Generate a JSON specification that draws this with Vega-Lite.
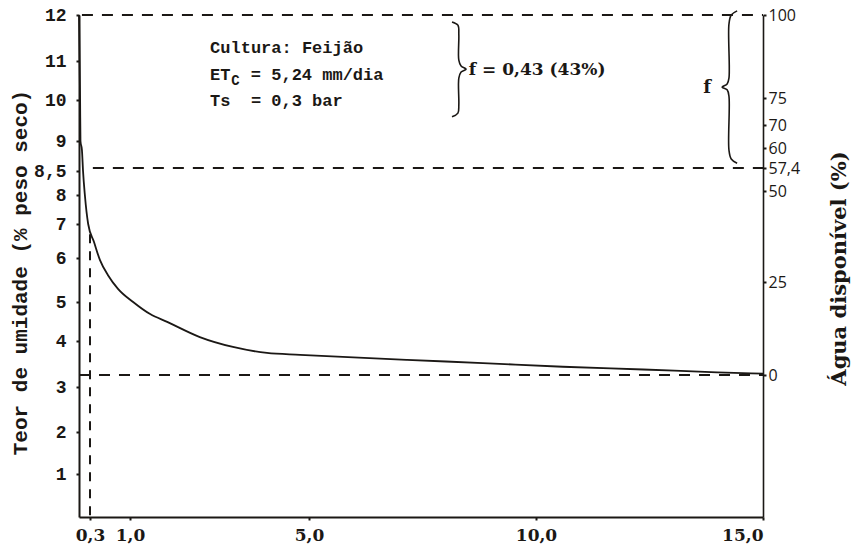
{
  "$schema": "https://vega.github.io/schema/vega-lite/v6.json",
  "width": 684,
  "height": 502,
  "autosize": {"type": "none"},
  "padding": {"left": 79, "top": 15, "right": 93, "bottom": 36},
  "background": "white",
  "config": {"view": {"stroke": null}, "axis": {"grid": false}},
  "datasets": {
    "curve": [
      {"x": 0, "y": 12}, {"x": 0.03, "y": 10}, {"x": 0.04, "y": 9}, {"x": 0.08, "y": 8.85},
      {"x": 0.11, "y": 8.5}, {"x": 0.16, "y": 8.0}, {"x": 0.25, "y": 7.0}, {"x": 0.37, "y": 6.47},
      {"x": 0.475, "y": 5.95}, {"x": 0.615, "y": 5.61}, {"x": 0.79, "y": 5.3}, {"x": 1.07, "y": 5.0},
      {"x": 1.45, "y": 4.69}, {"x": 1.83, "y": 4.49}, {"x": 2.56, "y": 4.1}, {"x": 3.3, "y": 3.87},
      {"x": 4.06, "y": 3.74}, {"x": 4.8, "y": 3.7}, {"x": 7.16, "y": 3.59}, {"x": 8.83, "y": 3.52},
      {"x": 10.59, "y": 3.44}, {"x": 12.36, "y": 3.38}, {"x": 13.99, "y": 3.32}, {"x": 15, "y": 3.29}
    ],
    "vline": [{"x": 0.3, "y": 6.7, "y2": 0}],
    "braces": [
      {"id": "f", "o": 1, "x": 14.43, "y": 12.09}, {"id": "f", "o": 2, "x": 14.3, "y": 12.0},
      {"id": "f", "o": 3, "x": 14.25, "y": 11.8}, {"id": "f", "o": 4, "x": 14.25, "y": 10.56},
      {"id": "f", "o": 5, "x": 14.21, "y": 10.41}, {"id": "f", "o": 6, "x": 14.1, "y": 10.33},
      {"id": "f", "o": 7, "x": 14.21, "y": 10.26}, {"id": "f", "o": 8, "x": 14.25, "y": 10.1},
      {"id": "f", "o": 9, "x": 14.25, "y": 8.85}, {"id": "f", "o": 10, "x": 14.3, "y": 8.7},
      {"id": "f", "o": 11, "x": 14.43, "y": 8.63},
      {"id": "m", "o": 1, "x": 8.15, "y": 11.85}, {"id": "m", "o": 2, "x": 8.28, "y": 11.78},
      {"id": "m", "o": 3, "x": 8.3, "y": 11.57}, {"id": "m", "o": 4, "x": 8.3, "y": 11.02},
      {"id": "m", "o": 5, "x": 8.35, "y": 10.87}, {"id": "m", "o": 6, "x": 8.46, "y": 10.79},
      {"id": "m", "o": 7, "x": 8.35, "y": 10.72}, {"id": "m", "o": 8, "x": 8.3, "y": 10.56},
      {"id": "m", "o": 9, "x": 8.3, "y": 9.88}, {"id": "m", "o": 10, "x": 8.28, "y": 9.68},
      {"id": "m", "o": 11, "x": 8.15, "y": 9.59}
    ],
    "monotext": [
      {"x": 2.79, "y": 11.28, "t": "Cultura: Feijão"},
      {"x": 2.79, "y": 10.64, "t": "ET"},
      {"x": 3.7, "y": 10.64, "t": "=\u00a05,24\u00a0mm/dia"},
      {"x": 2.79, "y": 9.98, "t": "Ts\u00a0\u00a0=\u00a00,3\u00a0bar"}
    ],
    "subtext": [{"x": 3.26, "y": 10.5, "t": "C"}],
    "ftext": [{"x": 8.52, "y": 10.77, "t": "f = 0,43 (43%)"}],
    "flabel": [{"x": 13.77, "y": 10.31, "t": "f"}],
    "dash": [
      {"x": 0.08, "x2": 15, "y": 100},
      {"x": 0.35, "x2": 15, "y": 57.4},
      {"x": 0, "x2": 15, "y": 0}
    ]
  },
  "encoding": {
    "x": {
      "field": "x", "type": "quantitative",
      "scale": {"domain": [0, 0.3, 1, 5, 10, 15], "range": [0, 11, 51, 230, 457, 684], "nice": false, "zero": false},
      "axis": {
        "orient": "bottom", "values": [0.3, 1, 5, 10, 15],
        "labelExpr": "replace(format(datum.value, '.1f'), '.', ',')",
        "labelFont": "DejaVu Serif", "labelFontWeight": "bold", "labelFontSize": 17,
        "labelColor": "#1b1815", "labelPadding": 7, "labelOverlap": false, "labelBound": false,
        "tickSize": 3, "tickWidth": 2, "tickColor": "#1b1815",
        "domainColor": "#1b1815", "domainWidth": 2, "title": null, "grid": false
      }
    }
  },
  "layer": [
    {
      "encoding": {
        "y": {
          "field": "y", "type": "quantitative",
          "scale": {
            "domain": [0, 1, 2, 3, 4, 5, 6, 7, 8, 8.5, 9, 10, 11, 12],
            "range": [502, 459, 417, 372, 326, 287, 243, 209, 180, 156, 126, 85, 46, 0],
            "nice": false, "zero": false
          },
          "axis": {
            "orient": "left", "values": [1, 2, 3, 4, 5, 6, 7, 8, 8.5, 9, 10, 11, 12],
            "labelExpr": "replace(toString(datum.value), '.', ',')",
            "labelFont": "Liberation Mono", "labelFontWeight": "bold", "labelFontSize": 18,
            "labelColor": "#1b1815", "labelPadding": 10, "labelOverlap": false, "labelBound": false,
            "tickSize": 3, "tickWidth": 2, "tickColor": "#1b1815",
            "domainColor": "#1b1815", "domainWidth": 2, "grid": false,
            "title": "Teor de umidade (% peso seco)",
            "titleFont": "Liberation Mono", "titleFontSize": 21, "titleFontWeight": "bold",
            "titleColor": "#1b1815", "titleAngle": -90, "titleX": -59, "titleY": 257,
            "titleAlign": "center", "titleBaseline": "middle"
          }
        }
      },
      "layer": [
        {
          "data": {"name": "curve"},
          "mark": {"type": "line", "color": "#1b1815", "strokeWidth": 1.8, "interpolate": "monotone"}
        },
        {
          "data": {"name": "vline"},
          "mark": {"type": "rule", "color": "#1b1815", "strokeWidth": 2, "strokeDash": [9, 8]},
          "encoding": {"y2": {"field": "y2"}}
        },
        {
          "data": {"name": "braces"},
          "mark": {"type": "line", "color": "#1b1815", "strokeWidth": 1.6, "interpolate": "catmull-rom"},
          "encoding": {"detail": {"field": "id"}, "order": {"field": "o", "type": "quantitative"}}
        },
        {
          "data": {"name": "monotext"},
          "mark": {"type": "text", "align": "left", "baseline": "middle", "font": "Liberation Mono", "fontWeight": "bold", "fontSize": 17, "color": "#1b1815"},
          "encoding": {"text": {"field": "t"}}
        },
        {
          "data": {"name": "subtext"},
          "mark": {"type": "text", "align": "left", "baseline": "middle", "font": "Liberation Mono", "fontWeight": "bold", "fontSize": 14, "color": "#1b1815"},
          "encoding": {"text": {"field": "t"}}
        },
        {
          "data": {"name": "ftext"},
          "mark": {"type": "text", "align": "left", "baseline": "middle", "font": "DejaVu Serif", "fontWeight": "bold", "fontSize": 17, "color": "#1b1815"},
          "encoding": {"text": {"field": "t"}}
        },
        {
          "data": {"name": "flabel"},
          "mark": {"type": "text", "align": "center", "baseline": "middle", "font": "DejaVu Serif", "fontWeight": "bold", "fontSize": 18, "color": "#1b1815"},
          "encoding": {"text": {"field": "t"}}
        }
      ]
    },
    {
      "data": {"name": "dash"},
      "mark": {"type": "rule", "color": "#1b1815", "strokeWidth": 2, "strokeDash": [11, 9]},
      "encoding": {
        "x2": {"field": "x2"},
        "y": {
          "field": "y", "type": "quantitative",
          "scale": {
            "domain": [-40.2, 0, 25, 50, 57.4, 60, 70, 75, 100],
            "range": [502, 360, 267, 176, 153, 133, 110, 83, 0],
            "nice": false, "zero": false
          },
          "axis": {
            "orient": "right", "values": [0, 25, 50, 57.4, 60, 70, 75, 100],
            "labelExpr": "replace(toString(datum.value), '.', ',')",
            "labelFont": "Open Sans", "labelFontSize": 16,
            "labelColor": "#1b1815", "labelPadding": 2, "labelOverlap": false, "labelBound": false,
            "tickSize": 3, "tickWidth": 2, "tickColor": "#1b1815",
            "domainColor": "#1b1815", "domainWidth": 1.6, "grid": false,
            "title": "Água disponível (%)",
            "titleFont": "DejaVu Serif", "titleFontSize": 21, "titleFontWeight": "bold",
            "titleColor": "#1b1815", "titleAngle": -90, "titleX": 76, "titleY": 253,
            "titleAlign": "center", "titleBaseline": "middle"
          }
        }
      }
    }
  ],
  "resolve": {"scale": {"y": "independent"}, "axis": {"y": "independent"}}
}
